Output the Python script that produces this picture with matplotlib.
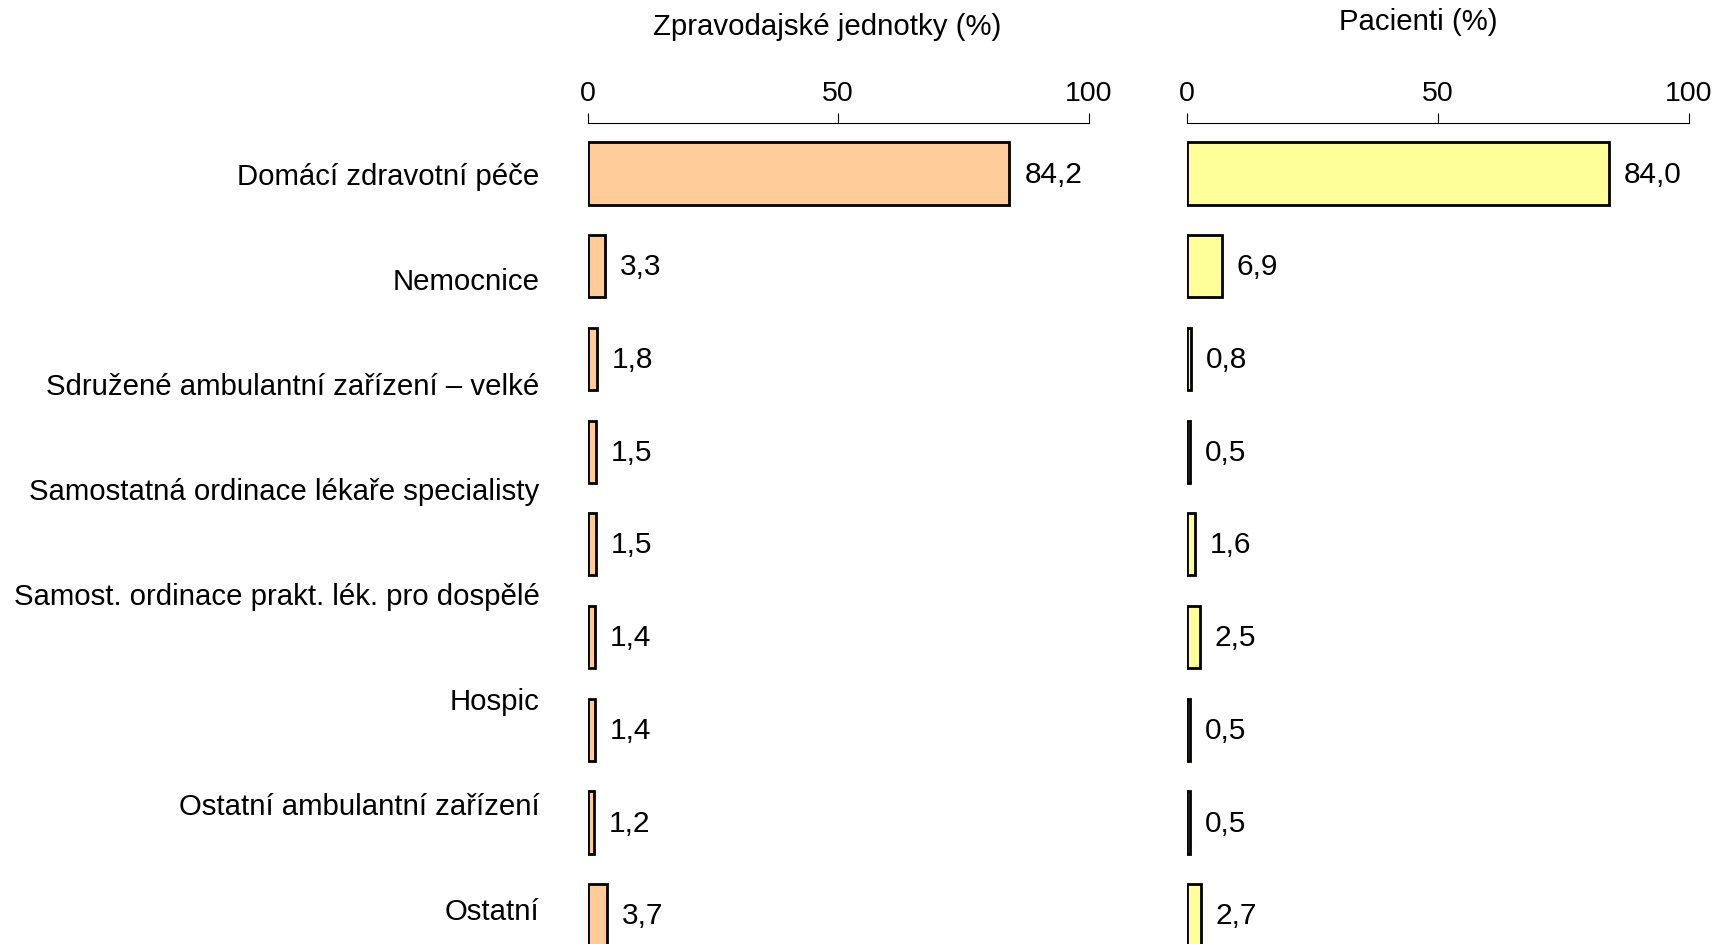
import numpy as np
import matplotlib
matplotlib.use("Agg")
import matplotlib.pyplot as plt

plt.rcParams['font.family'] = ['Liberation Sans', 'DejaVu Sans']

labels = ["Domácí zdravotní péče", "Nemocnice",
          "Sdružené ambulantní zařízení – velké",
          "Samostatná ordinace lékaře specialisty",
          "Samost. ordinace prakt. lék. pro dospělé",
          "Hospic", "Ostatní ambulantní zařízení", "Ostatní"]
jednotky = [84.2, 3.3, 1.8, 1.5, 1.5, 1.4, 1.4, 1.2, 3.7]
pacienti = [84.0, 6.9, 0.8, 0.5, 1.6, 2.5, 0.5, 0.5, 2.7]
titles = ["Zpravodajské jednotky (%)", "Pacienti (%)"]
colors = ["#FFCC99", "#FFFF99"]

W, H = 1724, 945
fig = plt.figure(figsize=(W/100, H/100), dpi=100)

top = (H - 124) / H
axL = fig.add_axes([588/W, 0, 500.5/W, top])
axR = fig.add_axes([1187/W, 0, 502/W, top])

def panel(ax, vals, color, title, tx, ty):
  y = np.arange(len(vals))
  ax.barh(y, vals, height=0.67, color=color, edgecolor='black', linewidth=2)
  ax.set_xlim(0, 100)
  ax.set_ylim(8.31, -0.545)
  for i, v in enumerate(vals):
    ax.text(v + 3, i, f"{v:.1f}".replace('.', ','), va='center', ha='left',
            fontsize=21.5, clip_on=False)
  for s in ['right', 'bottom', 'left']:
    ax.spines[s].set_visible(False)
  ax.spines['top'].set_linewidth(0.8)
  ax.xaxis.tick_top()
  ax.set_xticks([0, 50, 100])
  ax.tick_params(axis='x', direction='out', length=7, width=0.8, pad=5.5, labelsize=20.5)
  ax.set_yticks([])
  ax.text(tx, ty, title, transform=fig.transFigure, ha='center', va='center', fontsize=21.2)

panel(axL, jednotky, colors[0], titles[0], 827/W, 1 - 27/H)
panel(axR, pacienti, colors[1], titles[1], 1418/W, 1 - 22/H)

# category labels sit on their own scale
axT = axL.twinx()
axT.set_ylim(7.346, -0.473)
axT.yaxis.tick_left()
axT.set_yticks(np.arange(len(labels)))
axT.set_yticklabels(labels, fontsize=21.2)
axT.tick_params(axis='y', length=0, pad=35)
for s in axT.spines.values():
  s.set_visible(False)

fig.savefig("out.png", dpi=100)
plt.close()
